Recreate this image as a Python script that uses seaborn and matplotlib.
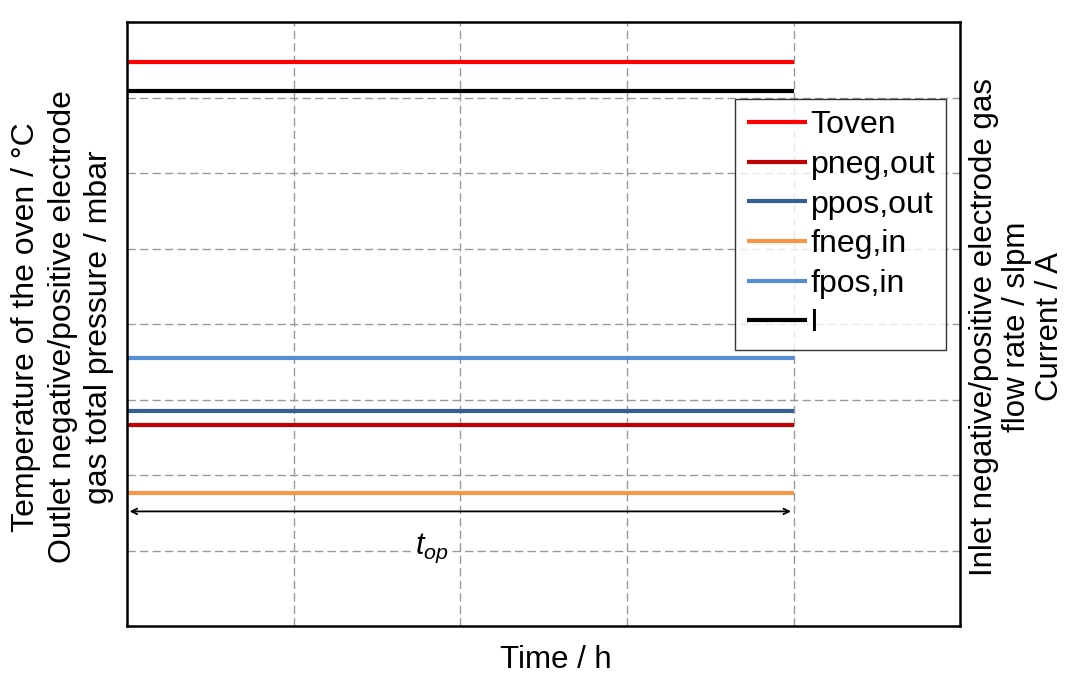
import seaborn as sns
import matplotlib.pyplot as plt
import pandas as pd

# Series (constant levels over the operating time, arbitrary units)
series = ["Toven", "pneg,out", "ppos,out", "fneg,in", "fpos,in", "I"]
levels = [7.47, 2.66, 2.85, 1.77, 3.55, 7.09]
t_start = 0
t_end = 4
colors = ["#FF0000", "#C00000", "#376092", "#F79646", "#558ED5", "#000000"]

rows = []
for name, lvl in zip(series, levels):
    rows.append({"Time": t_start, "Value": lvl, "Series": name})
    rows.append({"Time": t_end, "Value": lvl, "Series": name})
df = pd.DataFrame(rows)

sns.set_style("white")
plt.rcParams["font.family"] = ["Liberation Sans", "DejaVu Sans"]
plt.rcParams["mathtext.fontset"] = "custom"
plt.rcParams["mathtext.it"] = "Liberation Sans:italic"
plt.rcParams["mathtext.rm"] = "Liberation Sans"
plt.rcParams["text.color"] = "black"

fig = plt.figure(figsize=(10.66, 6.74), dpi=100)
ax = fig.add_axes([0.119, 0.071, 0.782, 0.896])

sns.lineplot(data=df, x="Time", y="Value", hue="Series", hue_order=series,
             palette=colors, linewidth=3, ax=ax, solid_capstyle="butt")

ax.set_xlim(0, 5)
ax.set_ylim(0, 8)
ax.set_xticks([1, 2, 3, 4])
ax.set_yticks([1, 2, 3, 4, 5, 6, 7])
ax.tick_params(length=0, labelbottom=False, labelleft=False)
ax.grid(True, color="#999999", linestyle=(0, (6, 3)), linewidth=1)
for s in ax.spines.values():
    s.set_linewidth(1.8)
    s.set_color("black")

# operating time arrow
ax.annotate("", xy=(t_end, 1.52), xytext=(t_start, 1.52),
            arrowprops=dict(arrowstyle="<->", color="black", lw=1.3))
ax.text(1.83, 1.03, r"$t_{op}$", fontsize=22, ha="center", va="center",
        bbox=dict(facecolor="white", edgecolor="none", pad=2))

ax.set_xlabel("")
ax.set_ylabel("")
fig.text(0.521, 0.021, "Time / h", fontsize=22.5, ha="center", va="center")
fig.text(0.059, 0.515,
         "Temperature of the oven / °C\nOutlet negative/positive electrode\ngas total pressure / mbar",
         rotation=90, fontsize=23, ha="center", va="center", linespacing=1.28)
fig.text(0.954, 0.515, "Inlet negative/positive electrode gas\nflow rate / slpm\nCurrent / A",
         rotation=90, fontsize=22.5, ha="center", va="center", linespacing=1.15)

leg = ax.legend(loc="upper right", bbox_to_anchor=(0.983, 0.8725), borderaxespad=0,
                fontsize=23, frameon=True, fancybox=False, edgecolor="black",
                handlelength=1.9, handletextpad=0.1, labelspacing=0.3,
                borderpad=0.35, title=None)
leg.get_frame().set_linewidth(1.0)
for h in leg.get_lines():
    h.set_linewidth(3)

fig.savefig("out.png", dpi=100)
